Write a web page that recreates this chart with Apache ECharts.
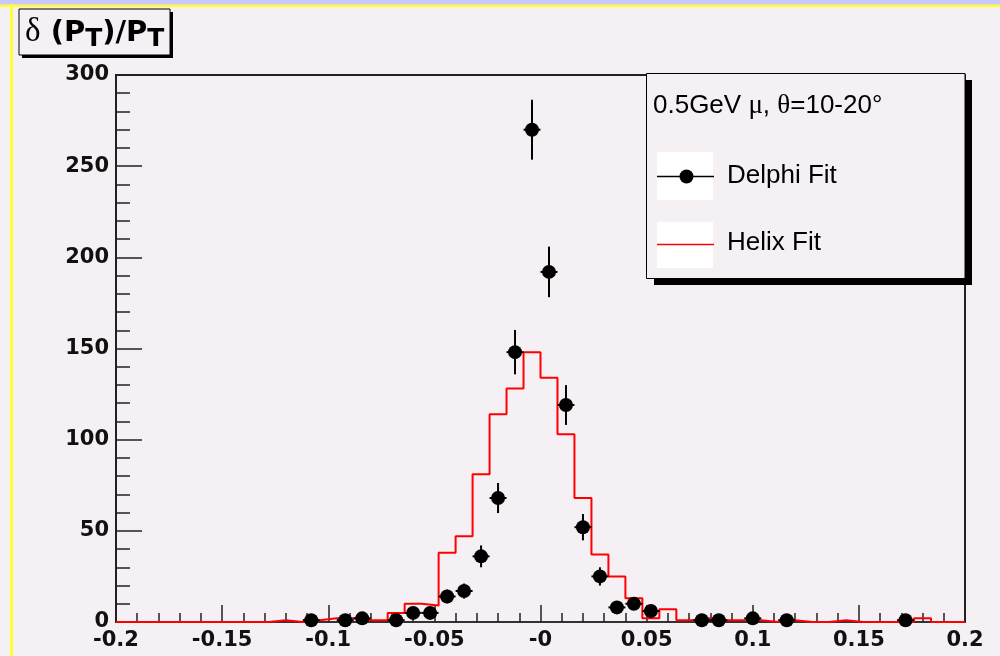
<!DOCTYPE html>
<html>
<head>
<meta charset="utf-8">
<title>δ (PT)/PT</title>
<script src="https://cdn.jsdelivr.net/npm/echarts@6/dist/echarts.min.js"></script>
<style>
  html, body { margin: 0; padding: 0; background: #f4f0f4; }
  #chart { width: 1000px; height: 656px; }
</style>
</head>
<body>
<div id="chart"></div>
<script>
// binning of both histograms: 50 bins from -0.2 to 0.2
var xMin = -0.2;
var xMax = 0.2;
var nBins = 50;
var binWidth = (xMax - xMin) / nBins;

// Delphi fit: filled bin index and its entries
var delphiBins = [11, 13, 14, 16, 17, 18, 19, 20, 21, 22, 23, 24, 25, 26, 27, 28, 29, 30, 31, 34, 35, 37, 39, 46];
var delphiCounts = [1, 1, 2, 1, 5, 5, 14, 17, 36, 68, 148, 270, 192, 119, 52, 25, 8, 10, 6, 1, 1, 2, 1, 1];

// Helix fit: content of every bin
var helixCounts = [
  0, 0, 0, 0, 0, 0, 0, 0, 0, 1,
  0, 1, 2, 2, 1, 1, 5, 10, 9, 38,
  47, 81, 114, 128, 148, 134, 103, 68, 37, 25,
  13, 2, 7, 1, 2, 1, 1, 1, 0, 1,
  0, 0, 1, 0, 0, 0, 0, 2, 0, 0
];

var xTickLabels = ['-0.2', '-0.15', '-0.1', '-0.05', '-0', '0.05', '0.1', '0.15', '0.2'];
var yTickLabels = ['0', '50', '100', '150', '200', '250', '300'];

var bg = '#f4f0f4';

// step outline: left edge of each bin, plus the closing right edge
var helixSteps = helixCounts.map(function (v, k) {
  return [xMin + k * binWidth, v];
});
helixSteps.push([xMax, helixCounts[nBins - 1]]);

var delphiPoints = delphiBins.map(function (b, i) {
  return [xMin + (b + 0.5) * binWidth, delphiCounts[i], Math.sqrt(delphiCounts[i])];
});

// title pieces laid out one after another (subscripts dropped a bit)
var measureCtx = document.createElement('canvas').getContext('2d');
var titleParts = [
  { text: 'δ', family: 'Liberation Serif', weight: 'normal', size: 33, dy: -1 },
  { text: ' (P', family: 'DejaVu Sans', weight: 'bold', size: 29, dy: 0 },
  { text: 'T', family: 'DejaVu Sans', weight: 'bold', size: 25, dy: 6 },
  { text: ')/P', family: 'DejaVu Sans', weight: 'bold', size: 29, dy: 0 },
  { text: 'T', family: 'DejaVu Sans', weight: 'bold', size: 25, dy: 6 }
];
var titleGraphics = [];
var tx = 25;
titleParts.forEach(function (p) {
  measureCtx.font = p.weight + ' ' + p.size + 'px "' + p.family + '"';
  titleGraphics.push({
    type: 'text', z: 92,
    style: {
      x: tx, y: 33 + p.dy, verticalAlign: 'middle',
      text: p.text, fontFamily: p.family, fontWeight: p.weight, fontSize: p.size, fill: '#000'
    }
  });
  tx += measureCtx.measureText(p.text).width;
});

var chart = echarts.init(document.getElementById('chart'));
chart.setOption({
  animation: false,
  backgroundColor: bg,
  grid: {
    left: 116, right: 35, top: 75, bottom: 34,
    show: true, borderColor: '#222', borderWidth: 2,
    outerBoundsMode: 'none'
  },
  xAxis: {
    type: 'value',
    min: xMin, max: xMax, interval: 0.05,
    axisLine: { onZero: false, lineStyle: { color: '#333', width: 2 } },
    axisTick: { inside: true, length: 17, lineStyle: { color: '#222', width: 1.5 } },
    minorTick: { show: true, splitNumber: 5, length: 9, lineStyle: { color: '#222', width: 1.5 } },
    splitLine: { show: false },
    axisLabel: {
      margin: 8,
      color: '#111',
      fontFamily: 'DejaVu Sans',
      fontWeight: 'bold',
      fontSize: 21,
      showMinLabel: true, showMaxLabel: true,
      formatter: function (v) {
        return xTickLabels[Math.round((v - xMin) / 0.05)];
      }
    }
  },
  yAxis: {
    type: 'value',
    min: 0, max: 300, interval: 50,
    axisLine: { show: true, onZero: false, lineStyle: { color: '#222', width: 2 } },
    axisTick: { show: true, inside: true, length: 26, lineStyle: { color: '#222', width: 1.5 } },
    minorTick: { show: true, splitNumber: 5, length: 14, lineStyle: { color: '#222', width: 1.5 } },
    splitLine: { show: false },
    axisLabel: {
      margin: 7,
      color: '#111',
      fontFamily: 'DejaVu Sans',
      fontWeight: 'bold',
      fontSize: 21,
      formatter: function (v) {
        return yTickLabels[Math.round(v / 50)];
      }
    }
  },
  series: [
    {
      name: 'Helix Fit',
      type: 'line',
      step: 'end',
      data: helixSteps,
      symbol: 'none',
      lineStyle: { color: '#ff0000', width: 2 },
      z: 3
    },
    {
      name: 'Delphi Fit errors',
      type: 'custom',
      data: delphiPoints,
      encode: { x: 0, y: 1 },
      z: 4,
      renderItem: function (params, api) {
        var x = api.value(0), y = api.value(1), e = api.value(2);
        var c = api.coord([x, y]);
        var top = api.coord([x, y + e]);
        var bot = api.coord([x, y - e]);
        var left = api.coord([x - binWidth / 2, y]);
        var right = api.coord([x + binWidth / 2, y]);
        return {
          type: 'group',
          children: [
            { type: 'line', shape: { x1: c[0], y1: top[1], x2: c[0], y2: bot[1] }, style: { stroke: '#000', lineWidth: 2 } },
            { type: 'line', shape: { x1: left[0], y1: c[1], x2: right[0], y2: c[1] }, style: { stroke: '#000', lineWidth: 2 } }
          ]
        };
      }
    },
    {
      name: 'Delphi Fit',
      type: 'scatter',
      data: delphiPoints,
      symbol: 'circle',
      symbolSize: 14,
      itemStyle: { color: '#000', opacity: 1, borderWidth: 0 },
      z: 5
    }
  ],
  graphic: [
    // window edges
    { type: 'rect', shape: { x: 0, y: 0, width: 1000, height: 5 }, style: { fill: '#c8c8ff' }, z: 100 },
    { type: 'rect', shape: { x: 0, y: 4.5, width: 1000, height: 2.5 }, style: { fill: '#ffff33' }, z: 100 },
    { type: 'rect', shape: { x: 10, y: 4.5, width: 3, height: 660 }, style: { fill: '#ffff33' }, z: 100 },
    // title box
    { type: 'rect', shape: { x: 22, y: 12, width: 151, height: 46 }, style: { fill: '#000' }, z: 90 },
    { type: 'rect', shape: { x: 19, y: 9, width: 151, height: 46 }, style: { fill: bg, stroke: '#000', lineWidth: 1 }, z: 91 },
    // legend box
    { type: 'rect', shape: { x: 654, y: 80, width: 318, height: 205 }, style: { fill: '#000' }, z: 90 },
    { type: 'rect', shape: { x: 646.5, y: 73.5, width: 318.5, height: 205 }, style: { fill: bg, stroke: '#000', lineWidth: 1 }, z: 91 },
    {
      type: 'text', z: 92,
      style: {
        x: 653, y: 106, verticalAlign: 'middle',
        text: '{a|0.5GeV }{g|μ}{a|, }{g|θ}{a|=10-20°}',
        rich: {
          a: { fontFamily: 'Liberation Sans', fontSize: 26, fill: '#000' },
          g: { fontFamily: 'Liberation Serif', fontSize: 27, fill: '#000' }
        }
      }
    },
    { type: 'rect', shape: { x: 657, y: 152, width: 56, height: 48 }, style: { fill: '#fff' }, z: 92 },
    { type: 'line', shape: { x1: 657, y1: 176.5, x2: 714, y2: 176.5 }, style: { stroke: '#000', lineWidth: 1.5 }, z: 93 },
    { type: 'circle', shape: { cx: 686.5, cy: 176.5, r: 7 }, style: { fill: '#000' }, z: 93 },
    { type: 'text', z: 92, style: { x: 727, y: 176, verticalAlign: 'middle', text: 'Delphi Fit', fontFamily: 'Liberation Sans', fontSize: 26, fill: '#000' } },
    { type: 'rect', shape: { x: 657, y: 222, width: 56, height: 46 }, style: { fill: '#fff' }, z: 92 },
    { type: 'line', shape: { x1: 657, y1: 244.5, x2: 714, y2: 244.5 }, style: { stroke: '#ff0000', lineWidth: 1.5 }, z: 93 },
    { type: 'text', z: 92, style: { x: 727, y: 243, verticalAlign: 'middle', text: 'Helix Fit', fontFamily: 'Liberation Sans', fontSize: 26, fill: '#000' } }
  ].concat(titleGraphics)
});
</script>
</body>
</html>
